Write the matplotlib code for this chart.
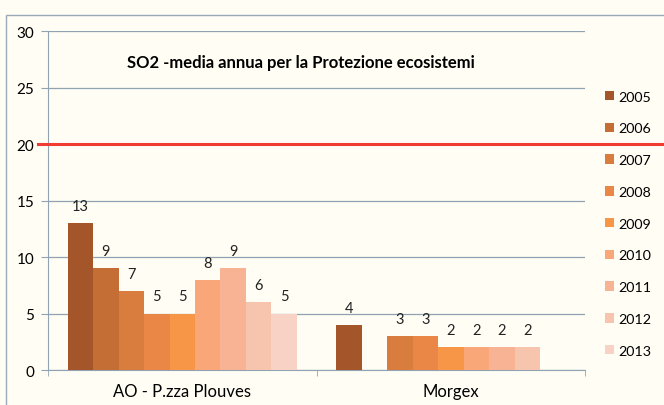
import numpy as np
import matplotlib.pyplot as plt
from matplotlib.patches import Rectangle

stations = ['AO - P.zza Plouves', 'Morgex']
years = ['2005', '2006', '2007', '2008', '2009', '2010', '2011', '2012', '2013']
ao = [13, 9, 7, 5, 5, 8, 9, 6, 5]
morgex = [4, None, 3, 3, 2, 2, 2, 2, None]
limit = 20
colors = ['#a5552a', '#c46d35', '#d97d3f', '#ea8747', '#f79646',
          '#f9a678', '#f8b394', '#f7c4ad', '#f8d3c5']

plt.rcParams['font.family'] = ['Lato', 'DejaVu Sans']
bg = '#fffdf4'
fig = plt.figure(figsize=(6.64, 4.06), dpi=100, facecolor=bg)
ax = fig.add_axes([0.0723, 0.086, 0.809, 0.835])
ax.set_facecolor(bg)

fig.patches.append(Rectangle((6/664, -0.1), 1.2, 1 - 16/406 + 0.1, transform=fig.transFigure,
                             fill=False, edgecolor='#9aabb8', lw=1.0))

gw = 0.853
w = gw / 9
for i, yr in enumerate(years):
    vals = [ao[i], morgex[i]]
    for j, v in enumerate(vals):
        if v is None:
            continue
        x = j + 0.5 - gw / 2 + (i + 0.5) * w
        ax.bar(x, v, width=w, color=colors[i], edgecolor='none',
               label=yr if j == 0 else None, zorder=3)
        ax.text(x, v + 0.9, str(v), ha='center', va='bottom', fontsize=10.5, color='#222222')

ax.axhline(limit, xmin=-0.019, xmax=1.15, color='#f03c32', lw=2.2, clip_on=False, zorder=4)

ax.set_xlim(0, 2)
ax.set_ylim(0, 30)
ax.set_yticks(np.arange(0, 31, 5))
ax.yaxis.grid(True, color='#8fa3b3', lw=0.9)
ax.set_axisbelow(True)
ax.set_xticks([0.5, 1.5])
ax.set_xticklabels(stations, fontsize=12)
ax.set_xticks([0, 1, 2], minor=True)
ax.tick_params(axis='x', which='major', length=0, pad=9)
ax.tick_params(axis='x', which='minor', length=4, color='#8fa3b3')
ax.tick_params(axis='y', length=5, color='#8fa3b3', labelsize=11, pad=5)
for s in ['top', 'right']:
    ax.spines[s].set_visible(False)
ax.spines['left'].set_color('#8fa3b3')
ax.spines['bottom'].set_color('#8fa3b3')

ax.text(0.147, 0.91, 'SO2 -media annua per la Protezione ecosistemi', transform=ax.transAxes,
        fontsize=12, fontweight='bold', ha='left', va='center')

ax.legend(loc='upper left', bbox_to_anchor=(1.012, 0.862), frameon=False, fontsize=10.3,
          handlelength=0.65, handleheight=0.65, handletextpad=0.35, labelspacing=1.38)

plt.savefig('out.png', dpi=100, facecolor=bg)
